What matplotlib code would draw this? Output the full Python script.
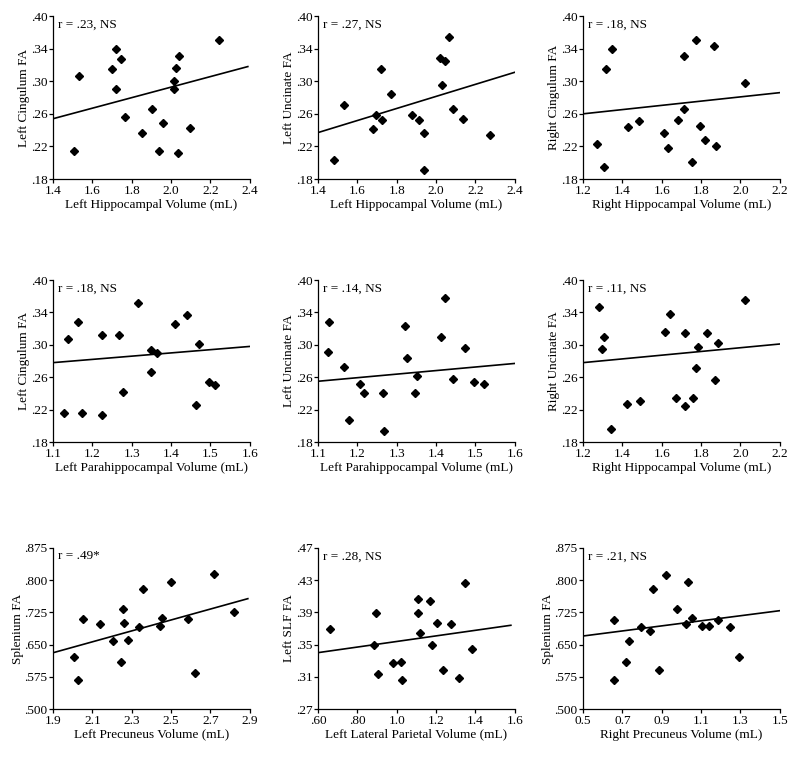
import numpy as np
import matplotlib
matplotlib.use("Agg")
import matplotlib.pyplot as plt

plt.rcParams["font.family"] = ["Liberation Serif", "DejaVu Serif"]

# ---- data ----
# row 1
l_hippo_1 = [1.505, 1.531, 1.719, 1.744, 1.698, 1.722, 1.764, 1.851, 1.905,
             1.958, 1.939, 2.041, 2.024, 2.014, 2.015, 2.037, 2.098, 2.244]
l_cing_1 = [.215, .307, .339, .327, .315, .290, .256, .236, .266,
            .249, .215, .331, .316, .300, .291, .212, .243, .351]

l_hippo_2 = [1.483, 1.531, 1.678, 1.695, 1.725, 1.719, 1.769, 1.878, 1.915,
             1.941, 1.939, 2.019, 2.044, 2.029, 2.064, 2.085, 2.139, 2.276]
l_unc_2 = [.203, .271, .242, .258, .252, .315, .284, .259, .252,
           .236, .191, .329, .325, .296, .354, .266, .254, .234]

r_hippo_3 = [1.269, 1.305, 1.319, 1.347, 1.429, 1.485, 1.612, 1.632, 1.685,
             1.712, 1.715, 1.754, 1.775, 1.793, 1.822, 1.868, 1.878, 2.025]
r_cing_3 = [.223, .195, .315, .340, .244, .251, .237, .218, .253,
            .266, .331, .201, .350, .245, .228, .343, .221, .298]

# row 2
l_parahip_4 = [1.127, 1.138, 1.163, 1.174, 1.224, 1.225, 1.268, 1.277, 1.315,
               1.348, 1.363, 1.349, 1.409, 1.441, 1.470, 1.463, 1.497, 1.511]
l_cing_4 = [.216, .307, .328, .216, .213, .312, .312, .242, .352,
            .294, .290, .267, .326, .337, .301, .226, .254, .250]

l_parahip_5 = [1.125, 1.129, 1.165, 1.178, 1.207, 1.218, 1.268, 1.264, 1.320,
               1.327, 1.346, 1.351, 1.412, 1.422, 1.443, 1.473, 1.496, 1.521]
l_unc_5 = [.291, .328, .273, .207, .252, .240, .194, .241, .323,
           .284, .240, .261, .310, .358, .258, .296, .254, .252]

r_hippo_6 = [1.283, 1.295, 1.307, 1.341, 1.422, 1.492, 1.617, 1.641, 1.675,
             1.719, 1.719, 1.761, 1.773, 1.783, 1.829, 1.869, 1.885, 2.022]
r_unc_6 = [.347, .295, .310, .196, .227, .231, .316, .338, .234,
           .315, .225, .234, .271, .297, .315, .256, .302, .355]

# row 3
l_precun_7 = [2.005, 2.029, 2.054, 2.139, 2.203, 2.244, 2.254, 2.261, 2.281,
              2.336, 2.359, 2.442, 2.454, 2.502, 2.586, 2.622, 2.720, 2.819]
splen_7 = [.622, .568, .709, .698, .659, .610, .732, .701, .661,
           .691, .779, .694, .713, .796, .709, .583, .814, .727]

l_latpar_8 = [0.659, 0.885, 0.897, 0.903, 0.980, 1.022, 1.029, 1.110, 1.110,
              1.117, 1.168, 1.180, 1.203, 1.234, 1.278, 1.315, 1.347, 1.380]
l_slf_8 = [.369, .349, .389, .313, .327, .329, .306, .407, .389,
           .365, .404, .350, .377, .319, .375, .309, .427, .345]

r_precun_9 = [0.656, 0.658, 0.717, 0.732, 0.797, 0.839, 0.854, 0.885, 0.920,
              0.978, 1.025, 1.036, 1.056, 1.103, 1.141, 1.188, 1.249, 1.295]
splen_9 = [.708, .567, .609, .658, .691, .681, .779, .592, .813,
           .734, .698, .796, .712, .694, .694, .708, .692, .621]

# regression lines as printed (x start, x end, y start, y end)
fit_x0 = [1.4, 1.4, 1.2, 1.1, 1.1, 1.2, 1.9, 0.6, 0.5]
fit_x1 = [2.39, 2.4, 2.2, 1.6, 1.6, 2.2, 2.89, 1.58, 1.5]
fit_y0 = [.254, .237, .260, .278, .255, .278, .631, .340, .670]
fit_y1 = [.318, .311, .286, .298, .277, .301, .757, .374, .729]

# axis ticks / labels
fa_ticks_a = [.18, .22, .26, .30, .34, .38]
fa_labels_a = [".18", ".22", ".26", ".30", ".34", ".40"]
splen_ticks = [.500, .575, .650, .725, .800, .875]
splen_labels = [".500", ".575", ".650", ".725", ".800", ".875"]
slf_ticks = [.27, .31, .35, .39, .43, .47]
slf_labels = [".27", ".31", ".35", ".39", ".43", ".47"]

r_texts = ["r = .23, NS", "r = .27, NS", "r = .18, NS",
           "r = .18, NS", "r = .14, NS", "r = .11, NS",
           "r = .49*", "r = .28, NS", "r = .21, NS"]

panels = [
    (l_hippo_1, l_cing_1, np.arange(1.4, 2.41, 0.2), None, fa_ticks_a, fa_labels_a,
     "Left Hippocampal Volume (mL)", "Left Cingulum FA"),
    (l_hippo_2, l_unc_2, np.arange(1.4, 2.41, 0.2), None, fa_ticks_a, fa_labels_a,
     "Left Hippocampal Volume (mL)", "Left Uncinate FA"),
    (r_hippo_3, r_cing_3, np.arange(1.2, 2.21, 0.2), None, fa_ticks_a, fa_labels_a,
     "Right Hippocampal Volume (mL)", "Right Cingulum FA"),
    (l_parahip_4, l_cing_4, np.arange(1.1, 1.61, 0.1), None, fa_ticks_a, fa_labels_a,
     "Left Parahippocampal Volume (mL)", "Left Cingulum FA"),
    (l_parahip_5, l_unc_5, np.arange(1.1, 1.61, 0.1), None, fa_ticks_a, fa_labels_a,
     "Left Parahippocampal Volume (mL)", "Left Uncinate FA"),
    (r_hippo_6, r_unc_6, np.arange(1.2, 2.21, 0.2), None, fa_ticks_a, fa_labels_a,
     "Right Hippocampal Volume (mL)", "Right Uncinate FA"),
    (l_precun_7, splen_7, np.arange(1.9, 2.91, 0.2), None, splen_ticks, splen_labels,
     "Left Precuneus Volume (mL)", "Splenium FA"),
    (l_latpar_8, l_slf_8, np.arange(0.6, 1.61, 0.2), [".60", ".80", "1.0", "1.2", "1.4", "1.6"],
     slf_ticks, slf_labels, "Left Lateral Parietal Volume (mL)", "Left SLF FA"),
    (r_precun_9, splen_9, np.arange(0.5, 1.51, 0.2), None, splen_ticks, splen_labels,
     "Right Precuneus Volume (mL)", "Splenium FA"),
]

fig = plt.figure(figsize=(8, 7.57), dpi=100)

lefts = [0.06625, 0.3975, 0.72875]
rows = [(0.7635, 0.2153), (0.4161, 0.214), (0.0634, 0.2127)]

for i, (x, y, xt, xl, yt, yl, xlab, ylab) in enumerate(panels):
    b, h = rows[i // 3]
    ax = fig.add_axes([lefts[i % 3], b, 0.246, h])
    ax.plot(x, y, "D", color="black", ms=4.2, mec="black")
    ax.plot([fit_x0[i], fit_x1[i]], [fit_y0[i], fit_y1[i]], color="black", lw=1.2)
    ax.set_xlim(xt[0], xt[-1])
    ax.set_ylim(yt[0], yt[-1])
    ax.set_xticks(xt)
    if xl is None:
        xl = ["%.1f" % v for v in xt]
    ax.set_xticklabels(xl)
    ax.set_yticks(yt)
    ax.set_yticklabels(yl)
    ax.spines["top"].set_visible(False)
    ax.spines["right"].set_visible(False)
    ax.spines["left"].set_linewidth(0.9)
    ax.spines["bottom"].set_linewidth(0.9)
    ax.tick_params(direction="out", length=3, width=0.9, pad=1, labelsize=9.5)
    ax.set_xlabel(xlab, fontsize=9.5, labelpad=1.5)
    ax.set_ylabel(ylab, fontsize=9.5, labelpad=0.5)
    ax.text(0.025, 0.985, r_texts[i], transform=ax.transAxes, ha="left", va="top", fontsize=9.5)

fig.savefig("out.png", dpi=100)
